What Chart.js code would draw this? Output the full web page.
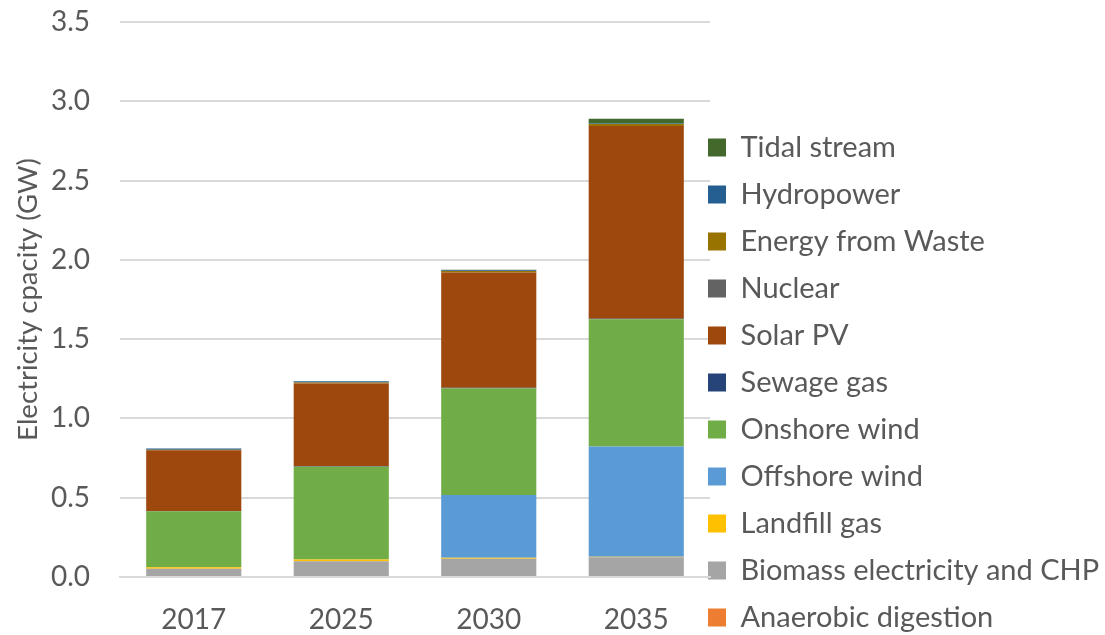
<!DOCTYPE html>
<html>
<head>
<meta charset="utf-8">
<script src="https://cdn.jsdelivr.net/npm/chart.js@4/dist/chart.umd.min.js"></script>
<style>
  html, body { margin: 0; padding: 0; background: #ffffff; }
  #wrap { width: 1105px; height: 635px; }
</style>
</head>
<body>
<div id="wrap"><canvas id="c" width="1105" height="635"></canvas></div>
<script>
// ---- data (GW) ----
const categories = ['2017', '2025', '2030', '2035'];
const anaerobicDigestion = [0, 0, 0, 0];
const biomassCHP        = [0.052, 0.100, 0.115, 0.124];
const landfillGas       = [0.010, 0.010, 0.006, 0.004];
const offshoreWind      = [0, 0, 0.396, 0.695];
const onshoreWind       = [0.352, 0.586, 0.673, 0.802];
const sewageGas         = [0.003, 0.003, 0.003, 0.003];
const solarPV           = [0.382, 0.522, 0.728, 1.216];
const nuclear           = [0, 0, 0, 0];
const energyFromWaste   = [0.004, 0.006, 0.008, 0.012];
const hydropower        = [0.008, 0.008, 0.005, 0.004];
const tidalStream       = [0, 0, 0.003, 0.030];
const yTickValues = [0, 0.5, 1.0, 1.5, 2.0, 2.5, 3.0, 3.5];

const FONT = 'Lato';
const TXT = '#595959';
const GRID = '#d9d9d9';

const series = [
  ['Anaerobic digestion', anaerobicDigestion, '#ED7D31'],
  ['Biomass electricity and CHP', biomassCHP, '#A5A5A5'],
  ['Landfill gas', landfillGas, '#FFC000'],
  ['Offshore wind', offshoreWind, '#5B9BD5'],
  ['Onshore wind', onshoreWind, '#70AD47'],
  ['Sewage gas', sewageGas, '#264478'],
  ['Solar PV', solarPV, '#9E480E'],
  ['Nuclear', nuclear, '#636363'],
  ['Energy from Waste', energyFromWaste, '#997300'],
  ['Hydropower', hydropower, '#255E91'],
  ['Tidal stream', tidalStream, '#43682B']
];

const datasets = series.map(([label, data, color]) => ({
  label, data,
  backgroundColor: color,
  borderWidth: 0,
  barPercentage: 0.645,
  categoryPercentage: 1.0
}));

// place the legend block where the reference has it
const LEGEND_BOX_X = 708;
const LEGEND_FIRST_ROW_TOP = 133;
const legendNudge = {
  id: 'legendNudge',
  afterLayout(chart) {
    const lg = chart.legend;
    if (!lg) return;
    const pad = lg.options.labels.padding;
    lg.left = LEGEND_BOX_X - pad;
    lg.right = chart.width;
    lg.top = LEGEND_FIRST_ROW_TOP - pad;
    lg.bottom = lg.top + 2000;
  }
};

new Chart(document.getElementById('c'), {
  type: 'bar',
  data: { labels: categories, datasets },
  plugins: [legendNudge],
  options: {
    responsive: false,
    animation: false,
    devicePixelRatio: 1,
    layout: { padding: { top: 22, right: 0, bottom: 0, left: 0 } },
    plugins: {
      legend: {
        position: 'right',
        align: 'start',
        reverse: true,
        maxWidth: 395,
        labels: {
          boxWidth: 18,
          boxHeight: 18,
          padding: 18,
          color: TXT,
          font: { family: FONT, size: 29 }
        }
      },
      tooltip: { enabled: false }
    },
    scales: {
      x: {
        stacked: true,
        grid: { display: false },
        border: { display: true, color: GRID, width: 2 },
        ticks: { color: TXT, font: { family: FONT, size: 28 }, padding: 18 },
        afterFit(s) { s.height = 58; s.paddingLeft = 0; s.paddingRight = 0; }
      },
      y: {
        stacked: true,
        min: 0,
        max: 3.5,
        afterBuildTicks(s) { s.ticks = yTickValues.map(v => ({ value: v })); },
        grid: { color: GRID, lineWidth: 2, drawTicks: false },
        border: { display: false },
        ticks: {
          color: TXT,
          font: { family: FONT, size: 28 },
          padding: 30,
          callback: v => Number(v).toFixed(1)
        },
        title: {
          display: true,
          text: 'Electricity cpacity (GW)',
          color: TXT,
          font: { family: FONT, size: 27.5 },
          padding: { top: 12, bottom: 0 }
        },
        afterFit(s) { s.width = 120; s.paddingTop = 0; s.paddingBottom = 0; }
      }
    }
  }
});
</script>
</body>
</html>
